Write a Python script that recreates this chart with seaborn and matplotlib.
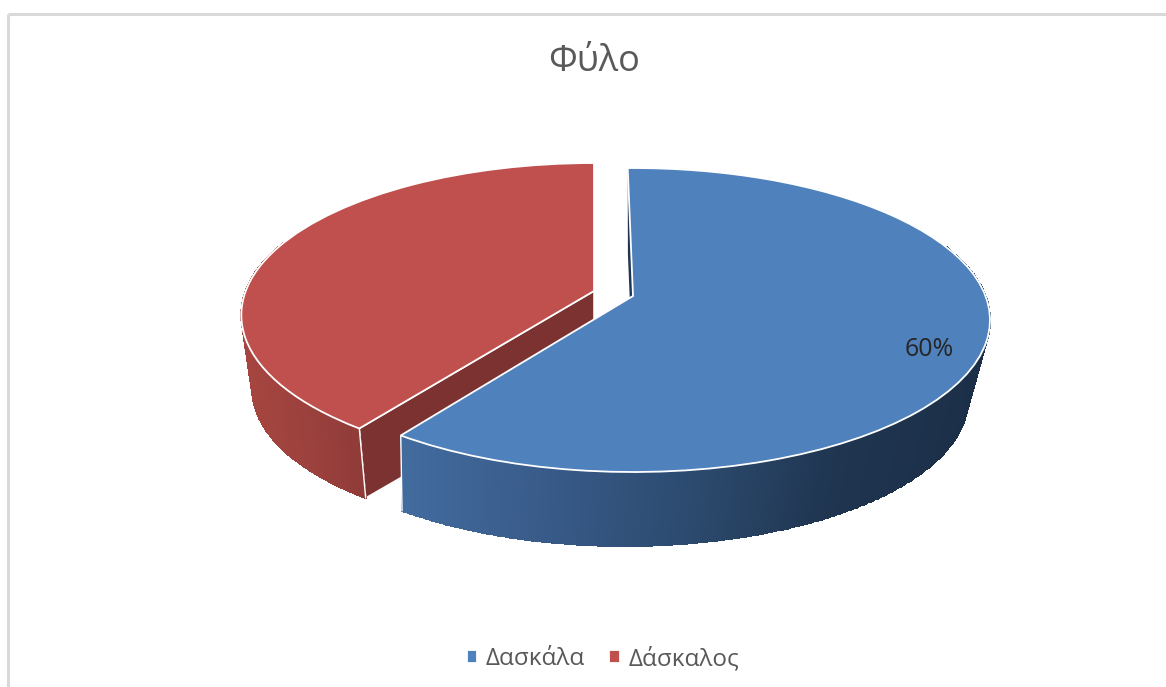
import numpy as np
import matplotlib
matplotlib.use('Agg')
import matplotlib.pyplot as plt
import seaborn as sns
from matplotlib.patches import Polygon
from matplotlib.transforms import Affine2D, Transform

# Data
names = ['Δασκάλα', 'Δάσκαλος']
shares = [60, 40]
title = 'Φύλο'

sns.set_theme(style='white')
plt.rcParams['font.family'] = ['Open Sans', 'DejaVu Sans']

FACE = ['#4f81bd', '#c0504d']
INNER = ['#1f3552', '#7c3230']
WALL = [sns.blend_palette(['#426b9e', '#385a88', '#2c4a6e', '#1f3550', '#1c2f49'], as_cmap=True),
        sns.blend_palette(['#a6453f', '#9c413e', '#8f3b38'], as_cmap=True)]
WALL_RANGE = [(407, 990), (245, 362)]

# pie centres in pixels, depth and small rotation of each slice
APEX = [(633, 296), (594, 291)]
DEPTH = [81, 75]
TILT = [1.0, 0]
WIDTH = [1.0, 0.988]
LOW_SHIFT = [-8, -3]
VISIBLE = [(-180, 20), (-200, 0)]  # part of the rim wall not hidden by the top face
A, B, K, SHRINK = 352.5, 148.2, 0.158, 0.96


class Perspective(Transform):
    """Tilted disc: unit circle to pixels, nearer edge drawn larger."""
    input_dims = output_dims = 2
    has_inverse = False

    def __init__(self, apex, drop=0, scale=1.0, width=1.0):
        super().__init__()
        self.apex, self.drop, self.scale, self.width = apex, drop, scale, width

    def transform_non_affine(self, xy):
        xy = np.asarray(xy)
        den = 1 + K * xy[:, 1]
        return np.column_stack([
            self.apex[0] + self.scale * self.width * A * xy[:, 0] / den,
            self.apex[1] + self.drop - self.scale * B * xy[:, 1] / den,
        ])


def rim(theta, tilt, proj):
    t = np.radians(np.atleast_1d(theta) + tilt)
    return proj.transform_non_affine(np.column_stack([np.cos(t), np.sin(t)]))


fig = plt.figure(figsize=(11.66, 6.87), dpi=100)
ax = fig.add_axes([0, 0, 1, 1])
wedges, _ = ax.pie(shares, startangle=90, counterclock=False, colors=FACE,
                   wedgeprops={'edgecolor': 'white', 'linewidth': 1.3})
ax.set_aspect('auto')
ax.set_xlim(0, 1166)
ax.set_ylim(687, 0)
ax.set_frame_on(False)

# red slice sits behind, blue in front
for i, z in [(1, 2), (0, 6)]:
    w = wedges[i]
    top = Perspective(APEX[i], width=WIDTH[i])
    low_apex = (APEX[i][0] + LOW_SHIFT[i], APEX[i][1])
    low = Perspective(low_apex, DEPTH[i], SHRINK, WIDTH[i])

    # inner cut wall, the blue one only shows as a sliver at the back
    cut = low if i == 1 else Perspective(APEX[i], DEPTH[i], SHRINK)
    e0, e1 = rim(w.theta2, TILT[i], top)[0], rim(w.theta2, TILT[i], cut)[0]
    ax.add_patch(Polygon([APEX[i], e0, e1, (APEX[i][0], APEX[i][1] + DEPTH[i])],
                         closed=True, facecolor=INNER[i], edgecolor='white',
                         linewidth=1.1 if i == 1 else 0, zorder=z))

    # curved outer wall
    lo, hi = max(w.theta1, VISIBLE[i][0]), min(w.theta2, VISIBLE[i][1])
    theta = np.linspace(lo, hi, 400)
    p0, p1 = rim(theta, TILT[i], top), rim(theta, TILT[i], low)
    X = np.vstack([p0[:, 0], p1[:, 0]])
    Y = np.vstack([p0[:, 1], p1[:, 1]])
    C = (X[0, :-1] + X[0, 1:]) / 2
    ax.pcolormesh(X, Y, C[None, :], cmap=WALL[i], vmin=WALL_RANGE[i][0], vmax=WALL_RANGE[i][1],
                  shading='flat', edgecolors='face', linewidth=0.2, zorder=z + 1)
    corner = -1 if i == 1 else 0
    ax.plot(X[:, corner], Y[:, corner], color='white', lw=1, zorder=z + 1)

    w.set_transform(Affine2D().rotate_deg(TILT[i]) + top + ax.transData)
    w.set_zorder(z + 2)

ax.text(929, 349, f'{shares[0]}%', ha='center', va='center', fontsize=18, color='#262626', zorder=12)
ax.text(594, 62, title, ha='center', va='center', fontsize=26, color='#595959')

leg = ax.legend(wedges, names, loc='center', bbox_to_anchor=(603, 659),
                bbox_transform=ax.transData, ncol=2, frameon=False, fontsize=17.5,
                handlelength=0.42, handleheight=0.42, handletextpad=0.37, columnspacing=1.0,
                labelcolor='#595959')

# chart area border, only top and left are inside the picture
ax.plot([8, 8], [687, 14], color='#d9d9d9', lw=2.2, solid_capstyle='butt')
ax.plot([8, 1166], [14, 14], color='#d9d9d9', lw=2.2, solid_capstyle='butt')

fig.savefig('out.png', dpi=100)
